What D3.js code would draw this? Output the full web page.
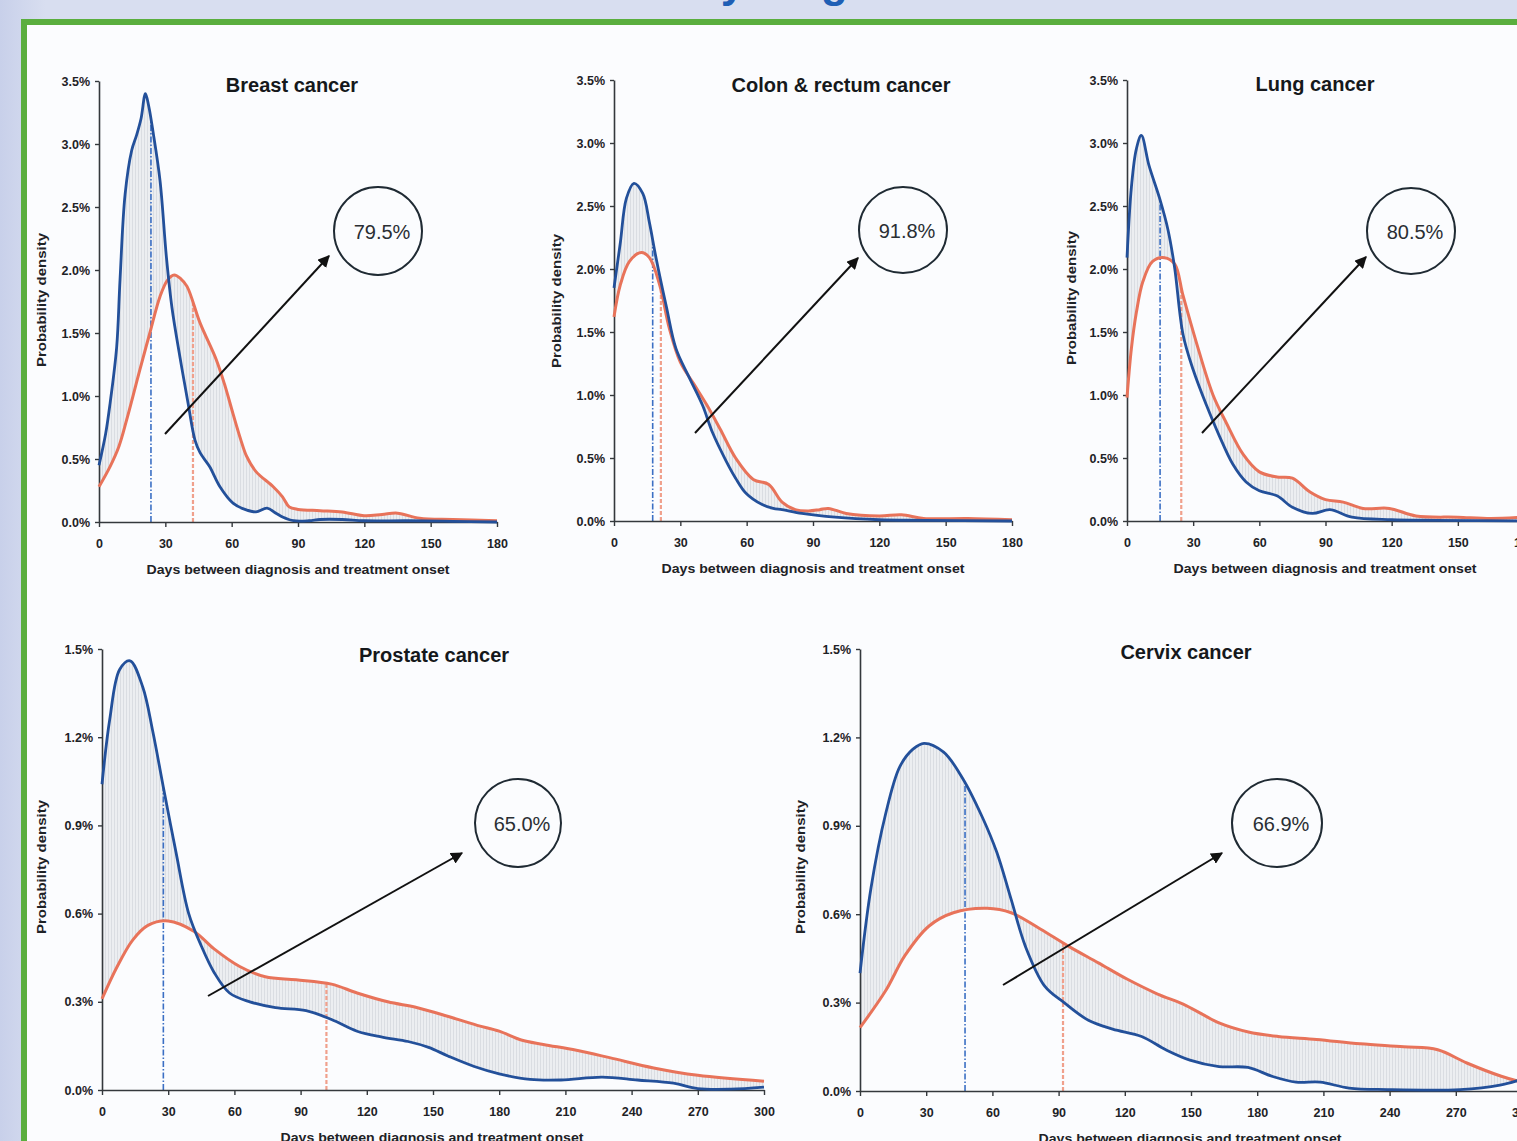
<!DOCTYPE html>
<html>
<head>
<meta charset="utf-8">
<script src="https://cdn.jsdelivr.net/npm/d3@7"></script>
<style>
  html, body { margin: 0; padding: 0; background: #d6ddf0; overflow: hidden; }
  svg { display: block; }
  text { font-family: "Liberation Sans", Arial, sans-serif; }
</style>
</head>
<body>
<svg id="chart" width="1517" height="1141"></svg>
<script>
// ─────────────────────────────────────────────
// DATA — [days, probability density in %]
// ─────────────────────────────────────────────
const pageTitle = 'Time to treatment by diagnosis';

const panelTitles  = ['Breast cancer', 'Colon & rectum cancer', 'Lung cancer', 'Prostate cancer', 'Cervix cancer'];
const overlapShare = ['79.5%', '91.8%', '80.5%', '65.0%', '66.9%'];
const blueMedians  = [23.5, 17.5, 15, 27.8, 47.6];
const redMedians   = [42.5, 21.2, 24.6, 101.7, 92];

const xTicksShort = [0, 30, 60, 90, 120, 150, 180];
const xTicksLong  = [0, 30, 60, 90, 120, 150, 180, 210, 240, 270, 300];
const yTicksTop   = [0, 0.5, 1.0, 1.5, 2.0, 2.5, 3.0, 3.5];
const yTicksBot   = [0, 0.3, 0.6, 0.9, 1.2, 1.5];

const breastBlue = [[0,0.45],[3,0.7],[5,0.94],[8,1.39],[9.5,1.92],[11.8,2.6],[14.8,2.95],[17,3.07],[19,3.2],[21,3.4],
  [22.5,3.3],[24.5,3.09],[27.6,2.71],[30.5,2.1],[33,1.7],[36.6,1.31],[40.3,0.94],[43.4,0.65],[45.7,0.55],[50,0.44],
  [54.7,0.28],[60.6,0.15],[66,0.1],[71,0.08],[76,0.11],[80,0.07],[83,0.04],[88,0.01],[95,0.01],[100,0.02],[110,0.02],
  [120,0.01],[140,0.01],[160,0.005],[180,0]];
const breastRed = [[0,0.28],[5,0.44],[9,0.6],[12.5,0.81],[18.5,1.21],[23,1.5],[27.6,1.79],[31,1.92],[34,1.96],[37,1.93],
  [39.8,1.87],[45.7,1.58],[53,1.29],[57,1.08],[60.6,0.86],[64,0.66],[66.8,0.52],[71,0.4],[78.8,0.28],[83,0.2],[86,0.12],
  [90,0.1],[100,0.09],[110,0.08],[120,0.05],[128,0.06],[135,0.07],[145,0.03],[160,0.02],[180,0.01]];

const colonBlue = [[0,1.85],[2.8,2.2],[5.6,2.56],[9,2.68],[13,2.6],[16,2.37],[19,2.09],[23.7,1.7],[28,1.37],[34,1.14],
  [40,0.92],[44.6,0.7],[50.6,0.48],[55,0.34],[59.7,0.22],[67,0.13],[72,0.1],[76,0.09],[85,0.06],[100,0.03],[120,0.01],
  [140,0.005],[180,0]];
const colonRed = [[0,1.62],[2.8,1.87],[7,2.06],[12.3,2.13],[16,2.09],[20.7,1.87],[25,1.53],[30,1.26],[36,1.09],[42,0.92],
  [48,0.73],[55,0.5],[63,0.33],[70,0.29],[76,0.15],[82,0.09],[88,0.08],[93,0.09],[97,0.1],[105,0.06],[120,0.04],
  [130,0.05],[140,0.02],[160,0.02],[180,0.01]];

const lungBlue = [[0,2.09],[2,2.65],[4.2,2.95],[6.5,3.06],[10,2.82],[14.8,2.56],[18.6,2.31],[21.6,2.01],[25.4,1.48],
  [30,1.2],[36,0.92],[42,0.67],[48,0.45],[54,0.31],[60,0.24],[68,0.2],[75,0.11],[84,0.06],[92,0.09],[102,0.03],
  [120,0.01],[140,0.005],[180,0]];
const lungRed = [[0,0.98],[2,1.37],[4.2,1.65],[7.2,1.9],[11.6,2.06],[17,2.09],[21.6,2.04],[25.4,1.79],[31.4,1.42],
  [39,1.0],[45,0.78],[52.6,0.53],[60,0.39],[68,0.35],[75,0.34],[83,0.23],[90,0.17],[98,0.15],[107,0.1],[119,0.1],
  [131,0.04],[150,0.03],[165,0.02],[180,0.03]];

const prostateBlue = [[0,1.04],[3.5,1.26],[8,1.43],[12.7,1.46],[18.5,1.37],[23,1.22],[27.8,1.03],[33.5,0.81],[39.3,0.6],
  [45,0.49],[50.8,0.4],[57.8,0.33],[67,0.3],[78.6,0.28],[92.5,0.27],[104,0.24],[115.6,0.2],[127,0.18],[138.7,0.165],
  [148,0.145],[157,0.115],[168.7,0.08],[180,0.055],[194,0.036],[208,0.034],[226.6,0.044],[242.7,0.034],[259,0.023],
  [270,0.005],[285,0.003],[300,0.01]];
const prostateRed = [[0,0.31],[6.9,0.42],[13.9,0.51],[20.8,0.56],[30,0.575],[41.6,0.54],[50.8,0.48],[62.4,0.42],
  [74,0.385],[88,0.375],[104,0.36],[115.6,0.33],[129.5,0.3],[143,0.28],[157,0.25],[170,0.22],[180,0.2],[190,0.17],
  [200,0.155],[215,0.135],[230,0.11],[250,0.075],[270,0.05],[300,0.03]];

const cervixBlue = [[0,0.4],[5,0.69],[11.6,0.94],[18,1.1],[24,1.16],[29,1.18],[37.9,1.15],[46.6,1.06],[55.4,0.93],
  [62,0.81],[68.5,0.65],[75,0.49],[83.8,0.355],[92.5,0.3],[103.5,0.24],[114.5,0.21],[127.6,0.185],[138.6,0.14],
  [149.5,0.105],[162.7,0.083],[175.8,0.08],[186.7,0.05],[197.6,0.03],[208.5,0.03],[221.6,0.01],[239,0.005],
  [272,0.005],[290,0.02],[300,0.04]];
const cervixRed = [[0,0.215],[11.6,0.34],[20.4,0.46],[31.3,0.56],[42.3,0.605],[57.6,0.62],[68.5,0.605],[81.7,0.55],
  [94.8,0.49],[108,0.435],[121,0.38],[134.6,0.33],[147.8,0.29],[163,0.23],[176,0.2],[189.5,0.185],[206.9,0.175],
  [226.7,0.16],[246.4,0.15],[261.8,0.14],[275,0.095],[290.6,0.05],[300,0.03]];

// ─────────────────────────────────────────────
// LAYOUT — panel boxes and annotation positions (px)
// ─────────────────────────────────────────────
const panels = [
  { blue: breastBlue,   red: breastRed,   xMax: 180, yMax: 3.5, xTicks: xTicksShort, yTicks: yTicksTop,
    left: 99,  right: 497,  top: 81,  bottom: 522,  titleX: 292,  titleY: 92,  xLabelX: 298,
    labelX: 42,  labelY: 300, circle: [378, 231, 44, 44],  arrow: [165, 434, 329, 256] },
  { blue: colonBlue,    red: colonRed,    xMax: 180, yMax: 3.5, xTicks: xTicksShort, yTicks: yTicksTop,
    left: 614, right: 1012, top: 80,  bottom: 521,  titleX: 841,  titleY: 92,  xLabelX: 813,
    labelX: 557, labelY: 301, circle: [903, 230, 44, 43],  arrow: [695, 433, 858, 258] },
  { blue: lungBlue,     red: lungRed,     xMax: 180, yMax: 3.5, xTicks: xTicksShort, yTicks: yTicksTop,
    left: 1127, right: 1524, top: 80, bottom: 521,  titleX: 1315, titleY: 91,  xLabelX: 1325,
    labelX: 1072, labelY: 298, circle: [1411, 231, 44, 43], arrow: [1202, 433, 1366, 257] },
  { blue: prostateBlue, red: prostateRed, xMax: 300, yMax: 1.5, xTicks: xTicksLong,  yTicks: yTicksBot,
    left: 102, right: 764,  top: 649, bottom: 1090, titleX: 434,  titleY: 662, xLabelX: 432,
    labelX: 42,  labelY: 867, circle: [518, 823, 43, 44],  arrow: [208, 996, 462, 853] },
  { blue: cervixBlue,   red: cervixRed,   xMax: 300, yMax: 1.5, xTicks: xTicksLong,  yTicks: yTicksBot,
    left: 860, right: 1522, top: 649, bottom: 1091, titleX: 1186, titleY: 659, xLabelX: 1190,
    labelX: 801, labelY: 867, circle: [1277, 823, 45, 44], arrow: [1003, 985, 1222, 853] }
];

const BLUE = '#23509a';
const RED  = '#e8735a';
const INK  = '#1e2226';

// ─────────────────────────────────────────────
// FRAME
// ─────────────────────────────────────────────
const svg = d3.select('#chart');
const defs = svg.append('defs');

const bg = defs.append('linearGradient').attr('id', 'bg').attr('x1', 0).attr('x2', 1).attr('y1', 0).attr('y2', 0);
bg.append('stop').attr('offset', '0%').attr('stop-color', '#c8d0ea');
bg.append('stop').attr('offset', '3%').attr('stop-color', '#d8def0');

svg.append('rect').attr('width', 1517).attr('height', 1141).attr('fill', 'url(#bg)');

const big = svg.append('text')
  .attr('y', -3)
  .attr('font-size', 44)
  .attr('font-weight', 'bold')
  .attr('font-family', '"Open Sans", sans-serif')
  .attr('fill', '#1f5fb5')
  .text(pageTitle);
const yChar = big.node().getExtentOfChar(pageTitle.indexOf('by') + 1);
big.attr('x', 733 - (yChar.x + yChar.width / 2));

svg.append('rect')
  .attr('x', 24).attr('y', 22)
  .attr('width', 1600).attr('height', 1300)
  .attr('fill', '#fbfcfe')
  .attr('stroke', '#5aae3e')
  .attr('stroke-width', 6);

// hatch for the area between the two curves
const hatch = defs.append('pattern')
  .attr('id', 'hatch')
  .attr('patternUnits', 'userSpaceOnUse')
  .attr('width', 3).attr('height', 10);
hatch.append('rect').attr('width', 3).attr('height', 10).attr('fill', '#eceef1');
hatch.append('rect').attr('width', 1).attr('height', 10).attr('fill', '#dadde2');

defs.append('marker')
  .attr('id', 'arrowHead')
  .attr('viewBox', '0 0 10 10')
  .attr('refX', 9).attr('refY', 5)
  .attr('markerWidth', 6).attr('markerHeight', 6)
  .attr('orient', 'auto')
  .append('path')
  .attr('d', 'M0,0L10,5L0,10z')
  .attr('fill', '#111');

// ─────────────────────────────────────────────
// HELPERS
// ─────────────────────────────────────────────
function valueAt(series, day) {
  const i = d3.bisector(d => d[0]).left(series, day);
  if (i <= 0) return series[0][1];
  if (i >= series.length) return series[series.length - 1][1];
  const a = series[i - 1], b = series[i];
  const t = (day - a[0]) / (b[0] - a[0]);
  return a[1] + t * (b[1] - a[1]);
}

function styleAxis(sel) {
  sel.select('.domain').attr('stroke', '#34383c').attr('stroke-width', 1.6);
  sel.selectAll('.tick line').attr('stroke', '#34383c').attr('stroke-width', 1.4);
  sel.selectAll('.tick text')
    .attr('fill', INK)
    .attr('font-size', 12.5)
    .attr('font-weight', 'bold')
    .attr('font-family', '"Liberation Sans", Arial, sans-serif');
}

// ─────────────────────────────────────────────
// BUILD ONE PANEL
// ─────────────────────────────────────────────
function drawPanel(p, i) {
  const x = d3.scaleLinear().domain([0, p.xMax]).range([p.left, p.right]);
  const y = d3.scaleLinear().domain([0, p.yMax]).range([p.bottom, p.top]);
  const g = svg.append('g');

  const line = d3.line()
    .x(d => x(d[0]))
    .y(d => y(d[1]))
    .curve(d3.curveCatmullRom.alpha(0.5));

  // area between curves: blue forward, red back (nonzero rule fills both sides of crossings)
  const fillPath = line(p.blue) + 'L' + line(p.red.slice().reverse()).slice(1) + 'Z';
  g.append('path').attr('d', fillPath).attr('fill', 'url(#hatch)').attr('stroke', 'none');

  // medians
  const rm = redMedians[i];
  g.append('line')
    .attr('x1', x(rm)).attr('x2', x(rm))
    .attr('y1', y(0)).attr('y2', y(valueAt(p.red, rm)))
    .attr('stroke', '#f0a08c').attr('stroke-width', 2.2)
    .attr('stroke-dasharray', '4,2');
  const bm = blueMedians[i];
  g.append('line')
    .attr('x1', x(bm)).attr('x2', x(bm))
    .attr('y1', y(0)).attr('y2', y(valueAt(p.blue, bm)))
    .attr('stroke', '#3b6fc4').attr('stroke-width', 1.6)
    .attr('stroke-dasharray', '6,2,1.5,2');

  // axes
  g.append('g')
    .attr('transform', `translate(${p.left},0)`)
    .call(d3.axisLeft(y).tickValues(p.yTicks).tickFormat(d => d.toFixed(1) + '%')
      .tickSize(4).tickSizeOuter(0).tickPadding(5))
    .call(styleAxis);

  g.append('g')
    .attr('transform', `translate(0,${p.bottom})`)
    .call(d3.axisBottom(x).tickValues(p.xTicks).tickSize(5).tickSizeOuter(0).tickPadding(12))
    .call(styleAxis);

  // curves
  g.append('path').datum(p.red).attr('d', line)
    .attr('fill', 'none').attr('stroke', RED).attr('stroke-width', 3).attr('stroke-linejoin', 'round');
  g.append('path').datum(p.blue).attr('d', line)
    .attr('fill', 'none').attr('stroke', BLUE).attr('stroke-width', 2.8).attr('stroke-linejoin', 'round');

  // titles and axis labels
  g.append('text')
    .attr('x', p.titleX).attr('y', p.titleY)
    .attr('text-anchor', 'middle')
    .attr('font-size', 20).attr('font-weight', 'bold').attr('fill', '#15181b')
    .text(panelTitles[i]);

  g.append('text')
    .attr('transform', `translate(${p.labelX},${p.labelY}) rotate(-90)`)
    .attr('text-anchor', 'middle').attr('dominant-baseline', 'central')
    .attr('font-size', 12).attr('font-weight', 'bold').attr('fill', INK)
    .attr('textLength', 134).attr('lengthAdjust', 'spacingAndGlyphs')
    .text('Probability density');

  g.append('text')
    .attr('x', p.xLabelX)
    .attr('y', p.bottom + 52)
    .attr('text-anchor', 'middle')
    .attr('font-size', 12.5).attr('font-weight', 'bold').attr('fill', INK)
    .attr('textLength', 303).attr('lengthAdjust', 'spacingAndGlyphs')
    .text('Days between diagnosis and treatment onset');

  // annotation: share in circle + arrow
  const [cx, cy, rx, ry] = p.circle;
  g.append('ellipse')
    .attr('cx', cx).attr('cy', cy).attr('rx', rx).attr('ry', ry)
    .attr('fill', 'none').attr('stroke', '#1f2a33').attr('stroke-width', 2);
  g.append('text')
    .attr('x', cx + 4).attr('y', cy + 1)
    .attr('text-anchor', 'middle').attr('dominant-baseline', 'central')
    .attr('font-size', 20).attr('fill', '#2a2e33')
    .text(overlapShare[i]);

  const [ax1, ay1, ax2, ay2] = p.arrow;
  g.append('line')
    .attr('x1', ax1).attr('y1', ay1).attr('x2', ax2).attr('y2', ay2)
    .attr('stroke', '#111').attr('stroke-width', 2)
    .attr('marker-end', 'url(#arrowHead)');
}

panels.forEach(drawPanel);
</script>
</body>
</html>
